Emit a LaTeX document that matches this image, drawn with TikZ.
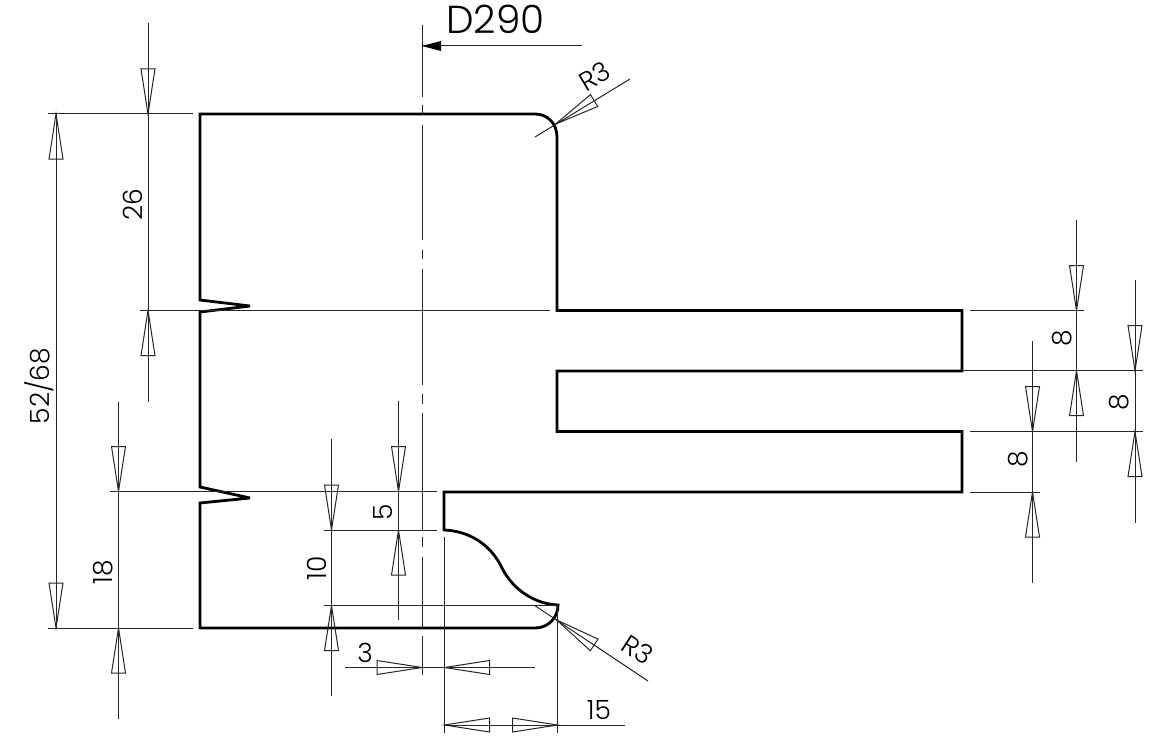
\documentclass[tikz,border=0pt]{standalone}
\usepackage{fontspec}
\setmainfont{Poppins Light}
\tikzset{
  dim/.style={draw=black!85,line width=1pt},
  part/.style={draw=black,line width=2.8pt,line join=miter,miter limit=3},
  label/.style={inner sep=0pt,font=\fontsize{26.5}{26.5}\selectfont},
}
\newcommand\oarr[3]{\draw[dim,line join=miter,shift={(#1,#2)},x=1pt,y=1pt,rotate=#3] (0,0)--(45,7)--(45,-7)--cycle;}
\begin{document}
\begin{tikzpicture}[x=1pt,y=-1pt]
\useasboundingbox (0,0) rectangle (1175,741);
\fill[white] (0,0) rectangle (1175,741);
% outline
\draw[part] (200,114) -- (535,114) .. controls (548,114) and (557,124) .. (557,137) -- (557,310.5) -- (962,310.5) -- (962,371) -- (557,371) -- (557,431.5) -- (962,431.5) -- (962,492) -- (444,492) -- (444,530)
 .. controls (470,531) and (491,545) .. (502,568) .. controls (513,590) and (535,604) .. (558,605) .. controls (558,618) and (548,628) .. (535,628) -- (200,628) -- (200,503) -- (250,498) -- (200,487) -- (200,312) -- (250,306) -- (200,300) -- cycle;
% centre line
\foreach \a/\b in {25/97,105/115,125/240,250/259,269/385,394/404,413/530,537/547,557/628,636/675}
  \draw[dim] (422,\a) -- (422,\b);
% extension lines
\draw[dim] (48,114) -- (193,114);
\draw[dim] (140,310.5) -- (550,310.5);
\draw[dim] (110,491.5) -- (437,491.5);
\draw[dim] (324,530) -- (437,530);
\draw[dim] (324,605.5) -- (558,605.5);
\draw[dim] (48,628) -- (193,628);
\draw[dim] (970,310.5) -- (1084,310.5);
\draw[dim] (962,370.7) -- (1143,370.7);
\draw[dim] (970,431.5) -- (1143,431.5);
\draw[dim] (970,492) -- (1040,492);
\draw[dim] (444.5,537) -- (444.5,733);
\draw[dim] (557.5,605) -- (557.5,733);
% dimension lines and arrows
\draw[dim] (56,114) -- (56,628); \oarr{56}{114}{-90} \oarr{56}{628}{90}
\draw[dim] (148,23) -- (148,402); \oarr{148}{114}{90} \oarr{148}{310.5}{-90}
\draw[dim] (118.5,402) -- (118.5,719); \oarr{118.5}{491.5}{90} \oarr{118.5}{628}{-90}
\draw[dim] (398.5,401) -- (398.5,620); \oarr{398.5}{491.5}{90} \oarr{398.5}{530}{-90}
\draw[dim] (331.5,439) -- (331.5,696); \oarr{331.5}{530}{90} \oarr{331.5}{605.5}{-90}
\draw[dim] (345,667.5) -- (535,667.5); \oarr{422}{667.5}{180} \oarr{444.5}{667.5}{0}
\draw[dim] (444.5,725) -- (625,725); \oarr{444.5}{725}{0} \oarr{557.5}{725}{180}
\draw[dim] (1076.5,220) -- (1076.5,462); \oarr{1076.5}{310.5}{90} \oarr{1076.5}{370.7}{-90}
\draw[dim] (1135,280) -- (1135,523); \oarr{1135}{370.7}{90} \oarr{1135}{431.5}{-90}
\draw[dim] (1032.5,341) -- (1032.5,583); \oarr{1032.5}{431.5}{90} \oarr{1032.5}{492}{-90}
% radius leaders
\draw[dim] (535,137) -- (630,79); \oarr{555.7}{124}{31.4}
\draw[dim] (535,605.7) -- (648,681); \oarr{556.7}{620}{-33.6}
% D290 leader
\draw[dim] (422,46) -- (582,46);
\fill[black] (422,46) -- (441,41) -- (441,51) -- cycle;
% texts
\node[inner sep=0pt,font=\fontsize{39}{39}\selectfont] (d290) at (495.5,19) {D290};
\node[label,rotate=31] (r3a) at (595,76.5) {R3};
\node[label,rotate=-33] (r3b) at (638,649.5) {R3};
\node[label,rotate=90] (n26) at (133,205) {26};
\node[label,rotate=90] (n5268) at (39,386) {52/68};
\node[label,rotate=90] (n18) at (103,572) {18};
\node[label,rotate=90] (n10) at (317,568) {10};
\node[label,rotate=90] (n5) at (383,512) {5};
\node[label] (n3) at (365,653) {3};
\node[label] (n15) at (599,710) {15};
\node[label,rotate=90] (e1) at (1062,338) {8};
\node[label,rotate=90] (e2) at (1119,402) {8};
\node[label,rotate=90] (e3) at (1018,459) {8};
\end{tikzpicture}
\end{document}
